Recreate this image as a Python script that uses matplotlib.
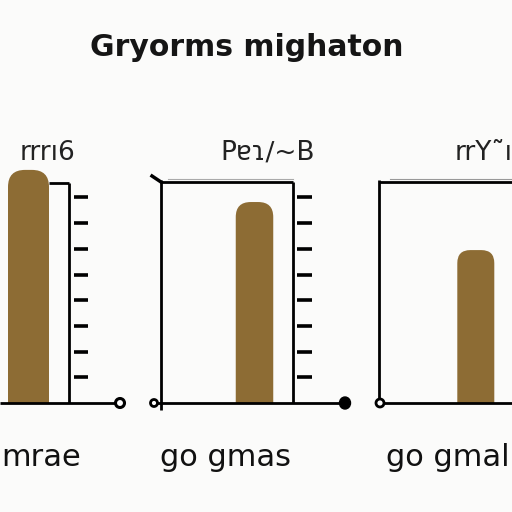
import matplotlib.pyplot as plt
from matplotlib.patches import FancyBboxPatch, Ellipse

# Data
title = "Gryorms mighaton"
categories = ["mrae", "go gmas", "go gmal"]
top_labels = ["rrrı6", "Pɐɿ∕~B", "rrY˜ı"]
values = [9.07, 7.82, 5.95]
ticks = [1, 2, 3, 4, 5, 6, 7, 8]

bar_color = "#8d6c34"
W = 512
UNIT = 25.7          # pixels per y unit
BASE = 403           # baseline, pixels from top
YTOP = 9.34

fig = plt.figure(figsize=(5.12, 5.12), dpi=100)
fig.patch.set_facecolor("#fbfbfa")


def fy(py):
    return 1 - py / W


def u(py):
    # pixel row -> data units
    return (BASE - py) / UNIT


# panel layout in pixels: x-range, bar centre, bar width, radius
panels = [
    dict(xr=(0, 135), cx=28.5, bw=41, r=17),
    dict(xr=(150, 360), cx=254.5, bw=37.5, r=15),
    dict(xr=(372, 512), cx=475.8, bw=37, r=13),
]

axes = []
for p, val in zip(panels, values):
    x0, x1 = p["xr"]
    ax = fig.add_axes([x0 / W, fy(BASE), (x1 - x0) / W, (YTOP * UNIT) / W])
    ax.set_xlim(x0, x1)
    ax.set_ylim(0, YTOP)
    ax.axis("off")
    ax.patch.set_alpha(0)
    bar = FancyBboxPatch((p["cx"] - p["bw"] / 2, -1), p["bw"], val + 1,
                         boxstyle=f"round,pad=0,rounding_size={p['r']}",
                         mutation_aspect=1 / UNIT, fc=bar_color, ec="none", zorder=2)
    ax.add_patch(bar)
    axes.append(ax)

lw = 2.0
k = dict(color="black", lw=lw, clip_on=False, solid_capstyle="butt", zorder=3)

# panel 1
ax = axes[0]
ax.plot([0, 116], [0, 0], **k)
ax.plot([49, 69], [u(183), u(183)], **k)
ax.plot([69, 69], [u(183), 0], **k)
ax.hlines(ticks, 74, 88, color="black", lw=2.6, clip_on=False)
ax.add_patch(Ellipse((120, 0), 9, 9 / UNIT, fc="white", ec="black", lw=2.2, clip_on=False, zorder=4))

# panel 2
ax = axes[1]
ax.plot([153, 340], [0, 0], **k)
ax.plot([161, 161], [u(180), u(410)], **k)
ax.plot([161, 293], [u(182), u(182)], **k)
ax.plot([293, 293], [u(182), 0], **k)
ax.plot([168, 293], [u(179), u(179)], color="#aaaaaa", lw=0.8, clip_on=False)
ax.hlines(ticks, 297, 312, color="black", lw=2.6, clip_on=False)
ax.add_patch(Ellipse((154, 0), 7, 7 / UNIT, fc="white", ec="black", lw=2, clip_on=False, zorder=4))
ax.add_patch(Ellipse((345, 0), 11, 12 / UNIT, fc="black", ec="black", lw=1, clip_on=False, zorder=4))
ax.plot([152, 161], [u(176), u(182)], color="black", lw=2.5, clip_on=False)

# panel 3
ax = axes[2]
ax.plot([380, 512], [0, 0], **k)
ax.plot([379, 379], [u(180), 0], **k)
ax.plot([379, 512], [u(182), u(182)], **k)
ax.plot([390, 512], [u(179.5), u(179.5)], color="#999999", lw=0.8, clip_on=False)
ax.add_patch(Ellipse((380, 0), 8, 8 / UNIT, fc="white", ec="black", lw=2, clip_on=False, zorder=4))

# texts
fig.text(247 / W, fy(48), title, ha="center", va="center", fontsize=21.5,
         fontweight="bold", color="#151515")
for x, lab in zip([47, 268, 484], top_labels):
    fig.text(x / W, fy(153), lab, ha="center", va="center", fontsize=19, color="#222222")
fig.text(1 / W, fy(458), categories[0], ha="left", va="center", fontsize=22, color="#111111")
for x, lab in zip([226, 448], categories[1:]):
    fig.text(x / W, fy(458), lab, ha="center", va="center", fontsize=22, color="#111111")

fig.savefig("out.png", dpi=100, facecolor=fig.get_facecolor())
